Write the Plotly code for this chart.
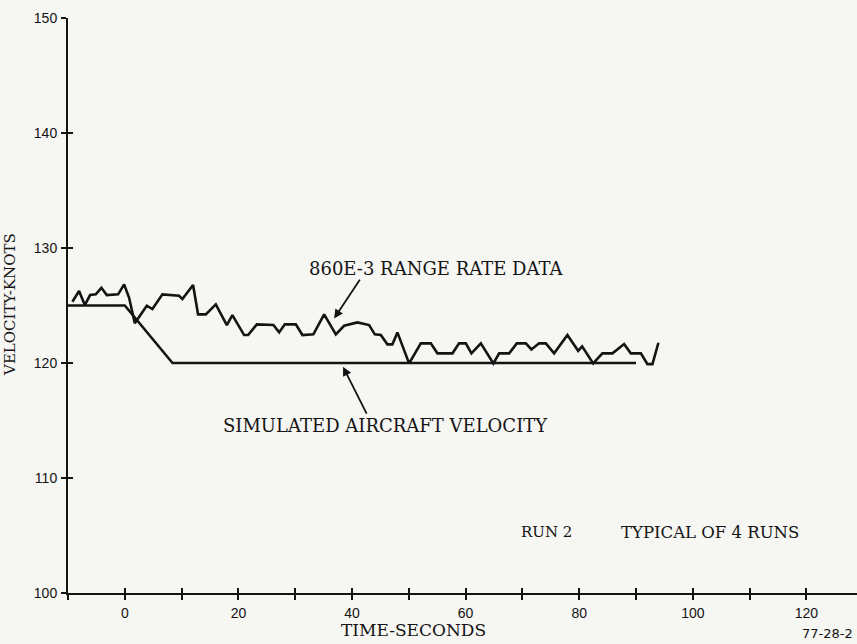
import plotly.graph_objects as go

# 860E-3 range rate data (time in seconds, velocity in knots)
range_rate_t = [-9.23, -8.05, -7.04, -6.11, -5.11, -4.12, -3.17, -1.18, -0.12, 0.76,
                1.76, 3.87, 4.86, 6.62, 9.56, 10.14, 12.02, 12.90, 14.26, 16.02,
                17.96, 18.94, 21.00, 21.71, 23.24, 26.16, 27.17, 28.17, 30.11, 31.27,
                33.20, 35.09, 37.15, 38.61, 40.95, 42.13, 43.01, 44.01, 45.07, 46.23,
                47.11, 47.99, 50.05, 52.11, 53.87, 55.04, 57.68, 58.85, 60.04, 61.02,
                62.68, 64.89, 65.90, 67.66, 69.01, 70.60, 71.58, 72.94, 74.12, 75.58,
                77.92, 79.81, 80.51, 82.45, 84.08, 85.85, 87.90, 89.08, 90.85, 92.01,
                92.89, 93.94]
range_rate_v = [125.33, 126.26, 125.04, 125.91, 125.97, 126.54, 125.91, 125.97, 126.84, 125.67,
                123.45, 124.98, 124.69, 125.97, 125.85, 125.56, 126.78, 124.23, 124.23, 125.10,
                123.30, 124.17, 122.43, 122.43, 123.36, 123.30, 122.66, 123.36, 123.36, 122.43,
                122.49, 124.23, 122.49, 123.24, 123.53, 123.36, 123.30, 122.49, 122.43, 121.62,
                121.62, 122.66, 119.97, 121.71, 121.71, 120.84, 120.84, 121.71, 121.71, 120.84,
                121.71, 119.97, 120.84, 120.84, 121.71, 121.71, 121.18, 121.71, 121.71, 120.84,
                122.43, 121.06, 121.45, 119.97, 120.84, 120.84, 121.65, 120.84, 120.84, 119.90,
                119.90, 121.76]

# Simulated aircraft velocity profile
sim_t = [-10, 0, 8.4, 90]
sim_v = [125, 125, 120, 120]

x_ticks = list(range(-10, 131, 10))
x_tick_text = [str(v) if v % 20 == 0 and v >= 0 else "" for v in x_ticks]
y_ticks = [100, 110, 120, 130, 140, 150]

X_RANGE = [-10, 128.9]
Y_RANGE = [100, 150]

INK = "#141414"
PAPER = "#f6f6f3"
SERIF = "DejaVu Serif"
SANS = "Liberation Sans"

fig = go.Figure()

fig.add_trace(go.Scatter(x=sim_t, y=sim_v, mode="lines",
                         line=dict(color=INK, width=2.6), hoverinfo="skip"))
fig.add_trace(go.Scatter(x=range_rate_t, y=range_rate_v, mode="lines",
                         line=dict(color=INK, width=2.6), hoverinfo="skip"))
# carrier trace for the overlay axes that draw the inner half of each tick
fig.add_trace(go.Scatter(x=sim_t, y=sim_v, mode="lines", xaxis="x2", yaxis="y2",
                         line=dict(width=0), hoverinfo="skip"))

axis_common = dict(showgrid=False, zeroline=False, linecolor=INK, linewidth=2,
                   tickcolor=INK, tickwidth=2)

fig.update_layout(
    width=857, height=644,
    margin=dict(l=68, r=0, t=18, b=51),
    paper_bgcolor=PAPER, plot_bgcolor=PAPER,
    showlegend=False,
    xaxis=dict(range=X_RANGE, showline=True, ticks="outside", ticklen=5,
               tickvals=x_ticks, ticktext=x_tick_text, ticklabelstandoff=1,
               tickfont=dict(family=SANS, size=14, color=INK), **axis_common),
    yaxis=dict(range=Y_RANGE, showline=True, ticks="outside", ticklen=5,
               tickvals=y_ticks, ticklabelstandoff=1,
               tickfont=dict(family=SANS, size=14, color=INK), **axis_common),
    xaxis2=dict(range=X_RANGE, overlaying="x", anchor="y2", side="bottom",
                showline=False, ticks="inside", ticklen=5, tickvals=x_ticks,
                showticklabels=False, **axis_common),
    yaxis2=dict(range=Y_RANGE, overlaying="y", anchor="x2", side="left",
                showline=False, ticks="inside", ticklen=5, tickvals=y_ticks,
                showticklabels=False, **axis_common),
)

annotations = [
    dict(x=54.84, y=128.25, text="860E-3 RANGE RATE DATA", showarrow=False,
         font=dict(family=SERIF, size=18, color=INK)),
    dict(x=36.85, y=123.88, ax=41.55, ay=127.36, axref="x", ayref="y",
         text="", showarrow=True, arrowhead=2, arrowsize=1, arrowwidth=1.8,
         arrowcolor=INK),
    dict(x=45.83, y=114.6, text="SIMULATED AIRCRAFT VELOCITY", showarrow=False,
         font=dict(family=SERIF, size=18, color=INK)),
    dict(x=38.42, y=119.67, ax=42.71, ay=115.47, axref="x", ayref="y",
         text="", showarrow=True, arrowhead=2, arrowsize=1, arrowwidth=1.8,
         arrowcolor=INK),
    dict(x=74.2, y=105.28, text="RUN 2", showarrow=False,
         font=dict(family=SERIF, size=15, color=INK)),
    dict(x=103.1, y=105.28, text="TYPICAL OF 4 RUNS", showarrow=False,
         font=dict(family=SERIF, size=16.5, color=INK)),
    dict(xref="paper", yref="paper", x=0.4385, y=-0.065, yanchor="middle",
         text="TIME-SECONDS", showarrow=False,
         font=dict(family=SERIF, size=17, color=INK)),
    dict(xref="paper", yref="paper", x=0.928, y=-0.0713, xanchor="left",
         yanchor="middle", text="77-28-2", showarrow=False,
         font=dict(family="DejaVu Sans", size=13, color=INK)),
    dict(xref="paper", yref="paper", x=-0.0735, y=0.501, xanchor="center",
         yanchor="middle", text="VELOCITY-KNOTS", textangle=-90, showarrow=False,
         font=dict(family=SERIF, size=15, color=INK)),
]
fig.update_layout(annotations=annotations)

fig.write_html("out.html")
